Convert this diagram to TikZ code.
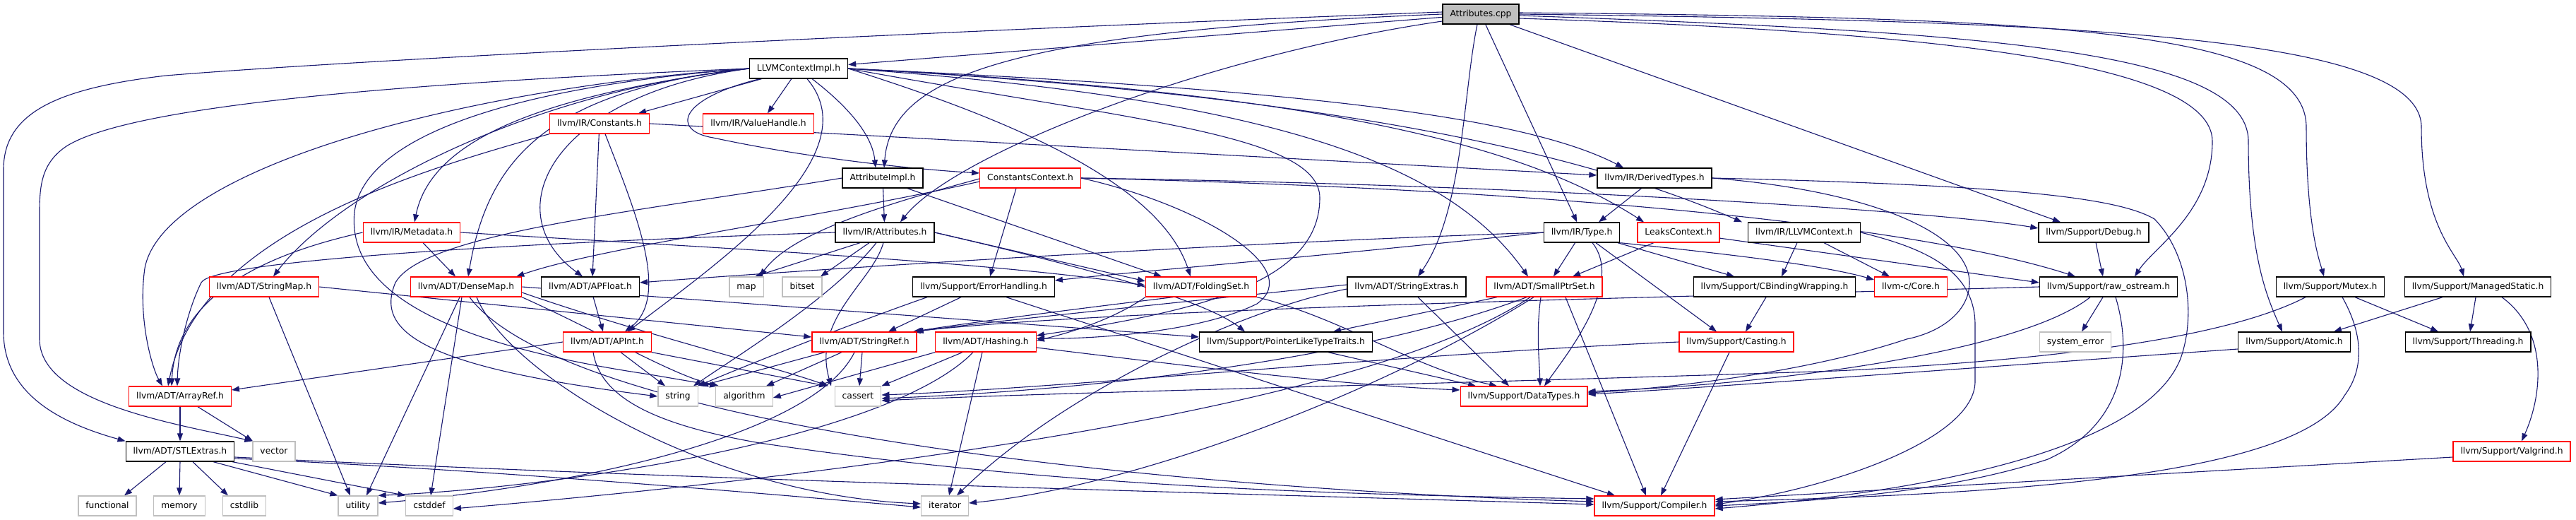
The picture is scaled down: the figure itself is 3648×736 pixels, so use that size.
\documentclass[tikz,border=0pt]{standalone}
\usepackage{fontspec}
\setmainfont{DejaVu Sans}
\usetikzlibrary{arrows.meta,backgrounds}
\definecolor{edgeblue}{RGB}{25,25,112}
\definecolor{sysgray}{RGB}{191,191,191}
\begin{document}
\begin{tikzpicture}[x=1pt,y=-1pt,
  box/.style={rectangle, fill=white, minimum height=28pt, inner xsep=10.5pt, inner ysep=0pt, text height=9pt, text depth=2.6pt, font=\fontsize{12.3}{14}\selectfont, line width=1.3pt},
  blk/.style={box, draw=black},
  redbox/.style={box, draw=red},
  sys/.style={box, draw=sysgray},
  root/.style={box, draw=black, fill=sysgray},
  e/.style={draw=edgeblue, line width=1.1pt, -{Triangle[length=11pt,width=8pt]}},
]
\useasboundingbox (0,0) rectangle (3648,736);
% nodes
\node[root] (A) at (2097,20) {Attributes.cpp};
\node[blk] (CI) at (1131,97) {LLVMContextImpl.h};
\node[redbox] (CO) at (849,175) {llvm/IR/Constants.h};
\node[redbox] (VH) at (1074,175) {llvm/IR/ValueHandle.h};
\node[blk] (AI) at (1250,252) {AttributeImpl.h};
\node[redbox] (CC) at (1459,252) {ConstantsContext.h};
\node[blk] (DT) at (2343,252) {llvm/IR/DerivedTypes.h};
\node[blk] (AT) at (1253,329) {llvm/IR/Attributes.h};
\node[redbox] (MD) at (583,329) {llvm/IR/Metadata.h};
\node[blk] (TY) at (2240,329) {llvm/IR/Type.h};
\node[redbox] (LC) at (2377,329) {LeaksContext.h};
\node[blk] (LX) at (2555,329) {llvm/IR/LLVMContext.h};
\node[blk] (DB) at (2965,329) {llvm/Support/Debug.h};
\node[redbox] (SM) at (374,406) {llvm/ADT/StringMap.h};
\node[redbox] (DM) at (660,406) {llvm/ADT/DenseMap.h};
\node[blk] (AF) at (836,406) {llvm/ADT/APFloat.h};
\node[sys] (MAP) at (1057,406) {map};
\node[sys] (BS) at (1136,406) {bitset};
\node[blk] (EH) at (1393,406) {llvm/Support/ErrorHandling.h};
\node[redbox] (FS) at (1701,406) {llvm/ADT/FoldingSet.h};
\node[blk] (SE) at (1992,406) {llvm/ADT/StringExtras.h};
\node[redbox] (SP) at (2187,406) {llvm/ADT/SmallPtrSet.h};
\node[blk] (CB) at (2513,406) {llvm/Support/CBindingWrapping.h};
\node[redbox] (CORE) at (2706,406) {llvm-c/Core.h};
\node[blk] (RO) at (2986,406) {llvm/Support/raw\_ostream.h};
\node[blk] (MX) at (3300,406) {llvm/Support/Mutex.h};
\node[blk] (MS) at (3509,406) {llvm/Support/ManagedStatic.h};
\node[redbox] (AP) at (860,484) {llvm/ADT/APInt.h};
\node[redbox] (SR) at (1224,484) {llvm/ADT/StringRef.h};
\node[redbox] (HS) at (1396,484) {llvm/ADT/Hashing.h};
\node[blk] (PL) at (1821,484) {llvm/Support/PointerLikeTypeTraits.h};
\node[redbox] (CS) at (2459,484) {llvm/Support/Casting.h};
\node[sys] (SYS) at (2939,484) {system\_error};
\node[blk] (ATM) at (3249,484) {llvm/Support/Atomic.h};
\node[blk] (TH) at (3495,484) {llvm/Support/Threading.h};
\node[redbox] (AR) at (255,561) {llvm/ADT/ArrayRef.h};
\node[sys] (STR) at (960,561) {string};
\node[sys] (ALG) at (1054,561) {algorithm};
\node[sys] (CA) at (1215,561) {cassert};
\node[redbox] (DTY) at (2158,561) {llvm/Support/DataTypes.h};
\node[blk] (STL) at (255,639) {llvm/ADT/STLExtras.h};
\node[sys] (VEC) at (388,639) {vector};
\node[redbox] (VG) at (3557,639) {llvm/Support/Valgrind.h};
\node[sys] (FN) at (152,716) {functional};
\node[sys] (MEM) at (254,716) {memory};
\node[sys] (CSTDLIB) at (346,716) {cstdlib};
\node[sys] (UT) at (507,716) {utility};
\node[sys] (CD) at (608,716) {cstddef};
\node[sys] (IT) at (1338,716) {iterator};
\node[redbox] (CP) at (2343,716) {llvm/Support/Compiler.h};

\begin{scope}[on background layer]
\fill[white] (0,0) rectangle (3648,736);
% Attributes.cpp
\draw[e] (A) -- (CI);
\draw[e] (A.west) .. controls (1420,45) and (1262,110) .. ([xshift=2pt]AI.north);
\draw[e] ([yshift=-10pt]A.west) .. controls (1700,80) and (1350,220) .. ([xshift=22pt]AT.north);
\draw[e] (A) -- (TY);
\draw[e] ([xshift=-5pt]A.south) .. controls (2072,130) and (2072,300) .. ([xshift=16pt]SE.north);
\draw[e] (A) -- ([xshift=-47pt]DB.north);
\draw[e] ([yshift=3pt]A.west) .. controls (1300,45) and (500,85) .. (235,107) .. controls (80,125) and (5,160) .. (5,240) -- (5,470) .. controls (5,560) and (90,600) .. (STL.north west);
\draw[e] ([yshift=-6pt]A.east) .. controls (2750,45) and (3133,90) .. (3133,200) .. controls (3133,300) and (3050,350) .. ([xshift=37pt]RO.north);
\draw[e] ([yshift=-2pt]A.east) .. controls (2800,45) and (3184,70) .. (3184,200) .. controls (3184,360) and (3210,420) .. ([xshift=-17pt]ATM.north);
\draw[e] ([yshift=2pt]A.east) .. controls (2900,25) and (3266,40) .. (3266,180) .. controls (3266,320) and (3285,370) .. ([xshift=-9pt]MX.north);
\draw[e] (A.east) .. controls (2950,30) and (3429,50) .. (3429,180) .. controls (3429,320) and (3480,360) .. ([xshift=-20pt]MS.north);
% LLVMContextImpl.h
\draw[e] (CI.west) .. controls (700,112) and (200,140) .. (94,207) .. controls (60,230) and (56,260) .. (56,300) -- (56,480) .. controls (56,570) and (250,600) .. (VEC.north west);
\draw[e] (CI.west) .. controls (650,125) and (230,240) .. (205,380) .. controls (195,450) and (215,520) .. ([xshift=-25pt]AR.north);
\draw[e] (CI.west) .. controls (750,130) and (480,270) .. ([xshift=13pt]SM.north);
\draw[e] (CI.west) .. controls (760,135) and (610,200) .. ([xshift=4pt]MD.north);
\draw[e] (CI.west) .. controls (770,128) and (690,230) .. ([xshift=3pt]DM.north);
\draw[e] (CI.west) .. controls (780,135) and (700,300) .. ([xshift=-11pt]AF.north);
\draw[e] (CI.west) .. controls (700,125) and (515,200) .. (502,300) .. controls (490,420) and (650,490) .. (920,530) -- ([xshift=-38pt]ALG.north);
\draw[e] (CI) -- ([xshift=55pt]CO.north);
\draw[e] (CI) -- ([xshift=13pt]VH.north);
\draw[e] (CI) .. controls (1200,150) and (1235,190) .. ([xshift=-10pt]AI.north);
\draw[e] ([xshift=-55pt]CI.south) .. controls (960,140) and (950,185) .. (1010,195) .. controls (1150,225) and (1300,240) .. ([yshift=7pt]CC.west);
\draw[e] ([xshift=12pt]CI.south) .. controls (1235,220) and (1020,370) .. ([xshift=29pt]AP.north);
\draw[e] (CI.east) .. controls (1400,160) and (1640,250) .. ([xshift=-15pt]FS.north);
\draw[e] (CI.east) .. controls (1800,125) and (2150,160) .. ([xshift=-44pt]DT.north);
\draw[e] (CI.east) .. controls (1850,130) and (2150,200) .. ([xshift=-49pt]LC.north);
\draw[e] (CI.east) .. controls (1900,135) and (2250,220) .. ([xshift=-8pt]LX.north west);
\draw[e] (CI.east) .. controls (1800,140) and (2050,230) .. ([xshift=-23pt]SP.north);
\draw[e] (CI.east) .. controls (1600,170) and (1869,190) .. (1869,280) .. controls (1869,400) and (1700,440) .. ([yshift=9pt]HS.east);
% Constants.h
\draw[e] (CO.south west) .. controls (600,240) and (280,330) .. ([xshift=-17pt]AR.north);
\draw[e] (CO) -- ([xshift=3pt]AF.north);
\draw[e] ([xshift=8pt]CO.south) .. controls (900,300) and (950,420) .. ([xshift=25pt]AP.north);
\draw[e] (CO.east) -- ([yshift=4pt]DT.west);
% AttributeImpl.h
\draw[e] (AI.west) .. controls (900,300) and (600,330) .. (560,400) .. controls (530,470) and (600,520) .. (STR.west);
\draw[e] (AI) -- (AT);
\draw[e] ([xshift=35pt]AI.south) -- ([xshift=-56pt]FS.north);
% ConstantsContext.h
\draw[e] ([yshift=-5pt]CC.west) .. controls (1150,310) and (850,350) .. ([xshift=-8pt]DM.north east);
\draw[e] ([yshift=-1pt]CC.west) .. controls (1250,290) and (1120,330) .. ([xshift=19pt]MAP.north);
\draw[e] ([xshift=-20pt]CC.south) -- ([xshift=9pt]EH.north);
\draw[e] (CC.east) .. controls (2200,262) and (2750,300) .. ([yshift=6pt]DB.west);
\draw[e] (CC.east) .. controls (2300,270) and (2750,330) .. ([xshift=-47pt]RO.north);
\draw[e] (CC.east) .. controls (1700,290) and (1850,380) .. (1780,430) .. controls (1700,470) and (1550,480) .. ([yshift=5pt]HS.east);
% Attributes.h
\draw[e] (AT.west) .. controls (700,345) and (300,370) .. (285,400) .. controls (265,440) and (252,500) .. ([xshift=-4pt]AR.north);
\draw[e] ([xshift=-35pt]AT.south) -- ([xshift=12pt]MAP.north);
\draw[e] ([xshift=-22pt]AT.south) -- ([xshift=26pt]BS.north);
\draw[e] ([xshift=-12pt]AT.south) .. controls (1180,420) and (1050,500) .. ([xshift=22pt]STR.north);
\draw[e] ([xshift=-2pt]AT.south) .. controls (1235,400) and (1150,450) .. ([xshift=-38pt]CA.north);
\draw[e] (AT.east) -- ([yshift=8pt]FS.west);
\draw[e] (AT.east) .. controls (1500,370) and (1700,420) .. ([xshift=-58pt]PL.north);
% Metadata.h
\draw[e] (MD.west) .. controls (420,350) and (250,400) .. ([xshift=-12pt]AR.north);
\draw[e] ([xshift=16pt]MD.south) -- ([xshift=-15pt]DM.north);
\draw[e] (MD.east) .. controls (1000,350) and (1400,370) .. ([yshift=2pt]FS.west);
% Type.h
\draw[e] (TY.west) .. controls (1700,345) and (1100,385) .. ([yshift=6pt]AF.east);
\draw[e] (TY.west) .. controls (1850,365) and (1600,385) .. ([yshift=9pt]EH.east);
\draw[e] (TY) -- ([xshift=13pt]SP.north);
\draw[e] (TY) -- ([xshift=-57pt]CB.north);
\draw[e] (TY.south east) .. controls (2450,360) and (2580,375) .. ([yshift=10pt]CORE.west);
\draw[e] (TY) -- ([xshift=-28pt]CS.north);
\draw[e] ([xshift=15pt]TY.south) .. controls (2300,400) and (2220,500) .. ([xshift=29pt]DTY.north);
% DerivedTypes.h
\draw[e] (DT) -- ([xshift=24pt]TY.north);
\draw[e] (DT.east) .. controls (2850,262) and (3000,280) .. (3051,310) .. controls (3100,360) and (3110,450) .. (3087,510) .. controls (3040,620) and (2800,690) .. ([yshift=-4pt]CP.east);
\draw[e] (DT.east) .. controls (2650,270) and (2789,330) .. (2789,400) .. controls (2789,440) and (2750,470) .. (2700,480) .. controls (2550,530) and (2350,550) .. ([yshift=5pt]DTY.east);
% LeaksContext.h
\draw[e] (LC) -- ([xshift=40pt]SP.north);
\draw[e] (LC) -- ([yshift=6pt]RO.west);
% LLVMContext.h
\draw[e] ([xshift=-10pt]LX.south) -- ([xshift=10pt]CB.north);
\draw[e] ([xshift=28pt]LX.south) -- ([xshift=-30pt]CORE.north);
\draw[e] (LX.east) .. controls (2720,350) and (2797,380) .. (2797,460) -- (2797,540) .. controls (2797,620) and (2600,690) .. ([yshift=2pt]CP.east);
% Debug.h
\draw[e] (DB) -- ([xshift=-8pt]RO.north);
% StringMap.h
\draw[e] (SM.east) -- ([yshift=7pt]SR.west);
\draw[e] ([xshift=7pt]SM.south) -- ([xshift=-11pt]UT.north);
% DenseMap.h
\draw[e] (DM.east) -- ([yshift=7pt]PL.west);
\draw[e] ([xshift=-9pt]DM.south) -- ([xshift=12pt]UT.north);
\draw[e] ([xshift=-6pt]DM.south) -- ([xshift=2pt]CD.north);
\draw[e] ([xshift=15pt]DM.south) .. controls (720,530) and (1000,700) .. ([yshift=3pt]IT.west);
\draw[e] (DM.south east) .. controls (850,470) and (950,530) .. ([xshift=-36pt]ALG.north);
\draw[e] ([yshift=-8pt]DM.east) .. controls (900,470) and (1100,520) .. ([xshift=-42pt]CA.north);
\draw[e] ([xshift=5pt]DM.south) .. controls (800,600) and (1600,690) .. ([yshift=6pt]CP.west);
% APFloat.h
\draw[e] (AF) -- ([xshift=-6pt]AP.north);
% APInt.h
\draw[e] (AP.west) -- ([yshift=9pt]AR.east);
\draw[e] ([xshift=19pt]AP.south) -- ([xshift=-18pt]STR.north);
\draw[e] (AP.south east) -- ([xshift=-44pt]CA.north);
\draw[e] ([xshift=-20pt]AP.south) .. controls (850,560) and (920,600) .. (1076,627) .. controls (1500,690) and (1900,700) .. ([yshift=10pt]CP.west);
% ErrorHandling.h
\draw[e] ([xshift=-32pt]EH.south) -- ([xshift=34pt]SR.north);
\draw[e] ([xshift=-80pt]EH.south) .. controls (1200,460) and (1050,520) .. ([xshift=28pt]STR.north);
\draw[e] ([xshift=32pt]EH.south) -- ([xshift=-56pt]CP.north);
% FoldingSet.h
\draw[e] ([xshift=-40pt]FS.south) .. controls (1500,440) and (1350,460) .. ([xshift=-4pt]SR.north east);
\draw[e] (FS.south west) .. controls (1580,450) and (1520,470) .. ([yshift=2pt]HS.east);
\draw[e] (FS.south east) .. controls (1900,450) and (2000,520) .. ([xshift=-38pt]DTY.north);
% StringExtras.h
\draw[e] ([yshift=3pt]SE.west) .. controls (1700,425) and (1400,455) .. ([xshift=-2pt]SR.north east);
\draw[e] ([yshift=-3pt]SE.west) .. controls (1750,440) and (1500,560) .. ([xshift=17pt]IT.north);
\draw[e] ([xshift=16pt]SE.south) -- ([xshift=-21pt]DTY.north);
% SmallPtrSet.h
\draw[e] ([xshift=-67pt]SP.south) -- ([xshift=67pt]PL.north);
\draw[e] ([xshift=-25pt]SP.south) .. controls (1950,500) and (1600,550) .. ([yshift=-3pt]CA.east);
\draw[e] ([xshift=-15pt]SP.south) .. controls (1950,560) and (1600,690) .. ([yshift=4pt]IT.east);
\draw[e] ([xshift=-20pt]SP.south) .. controls (1900,600) and (1000,690) .. ([yshift=-4pt]CD.east);
\draw[e] ([xshift=-5pt]SP.south) .. controls (2175,470) and (2180,510) .. ([xshift=23pt]DTY.north);
\draw[e] ([xshift=30pt]SP.south) -- ([xshift=-12pt]CP.north);
% CBindingWrapping.h
\draw[e] ([xshift=-12pt]CB.south) -- ([xshift=13pt]CS.north);
% Casting.h
\draw[e] (CS.west) .. controls (2000,500) and (1500,550) .. ([yshift=2pt]CA.east);
\draw[e] ([xshift=-10pt]CS.south) -- ([xshift=9pt]CP.north);
% raw_ostream.h
\draw[e] (RO.west) .. controls (2400,420) and (1600,435) .. ([xshift=-6pt]SR.north east);
\draw[e] ([xshift=-26pt]RO.south) .. controls (2860,500) and (2500,545) .. ([yshift=7pt]DTY.east);
\draw[e] ([xshift=-8pt]RO.south) -- ([xshift=9pt]SYS.north);
\draw[e] ([xshift=10pt]RO.south) .. controls (3020,500) and (3010,600) .. (2900,650) .. controls (2750,700) and (2550,710) .. (CP.east);
% Mutex.h
\draw[e] ([xshift=-35pt]MX.south) .. controls (3150,480) and (2900,510) .. (2600,525) .. controls (2000,545) and (1500,555) .. ([yshift=-6pt]CA.east);
\draw[e] ([xshift=35pt]MX.south) -- ([xshift=-42pt]TH.north);
\draw[e] ([xshift=17pt]MX.south) .. controls (3345,470) and (3350,520) .. (3320,560) .. controls (3250,680) and (2800,700) .. ([yshift=6pt]CP.east);
% ManagedStatic.h
\draw[e] ([xshift=-50pt]MS.south) -- ([xshift=56pt]ATM.north);
\draw[e] ([xshift=-3pt]MS.south) -- ([xshift=3pt]TH.north);
\draw[e] ([xshift=34pt]MS.south) .. controls (3610,470) and (3600,560) .. ([xshift=14pt]VG.north);
% Atomic.h
\draw[e] ([yshift=-10pt]ATM.west) .. controls (2800,520) and (2400,550) .. ([yshift=3pt]DTY.east);
% Valgrind.h
\draw[e] ([yshift=-8pt]VG.west) -- ([yshift=9pt]CP.east);
% Hashing.h
\draw[e] (HS.south west) -- ([yshift=-2pt]ALG.east);
\draw[e] ([xshift=-33pt]HS.south) -- (CA.north east);
\draw[e] ([xshift=-18pt]HS.south) .. controls (1260,620) and (800,690) .. (UT.north east);
\draw[e] ([xshift=-5pt]HS.south) -- ([xshift=6pt]IT.north);
\draw[e] ([yshift=-8pt]HS.east) .. controls (1700,520) and (1900,545) .. ([yshift=9pt]DTY.west);
% StringRef.h
\draw[e] ([xshift=-56pt]SR.south) -- ([xshift=32pt]STR.north);
\draw[e] ([xshift=-32pt]SR.south) -- ([xshift=31pt]ALG.north);
\draw[e] ([xshift=-3pt]SR.south) -- ([xshift=2pt]CA.north);
\draw[e] ([xshift=-14pt]SR.south) .. controls (1150,620) and (800,690) .. ([yshift=4pt]UT.east);
% PointerLikeTypeTraits.h
\draw[e] ([xshift=60pt]PL.south) -- ([xshift=-68pt]DTY.north);
% STLExtras.h
\draw[e] ([xshift=-20pt]STL.south) -- ([xshift=24pt]FN.north);
\draw[e] (STL.south) -- (MEM.north);
\draw[e] ([xshift=18pt]STL.south) -- ([xshift=-23pt]CSTDLIB.north);
\draw[e] ([xshift=47pt]STL.south) -- (UT.north west);
\draw[e] ([xshift=74pt]STL.south) -- (CD.north west);
\draw[e] ([yshift=-10pt]STL.east) .. controls (700,665) and (1100,700) .. ([yshift=-2pt]IT.west);
\draw[e] ([yshift=-8pt]STL.east) .. controls (1000,680) and (1800,700) .. ([yshift=2pt]CP.west);
% ArrayRef.h
\draw[e] (AR) -- (STL);
\draw[e] ([xshift=25pt]AR.south) -- ([xshift=-30pt]VEC.north);
\end{scope}
\end{tikzpicture}
\end{document}
